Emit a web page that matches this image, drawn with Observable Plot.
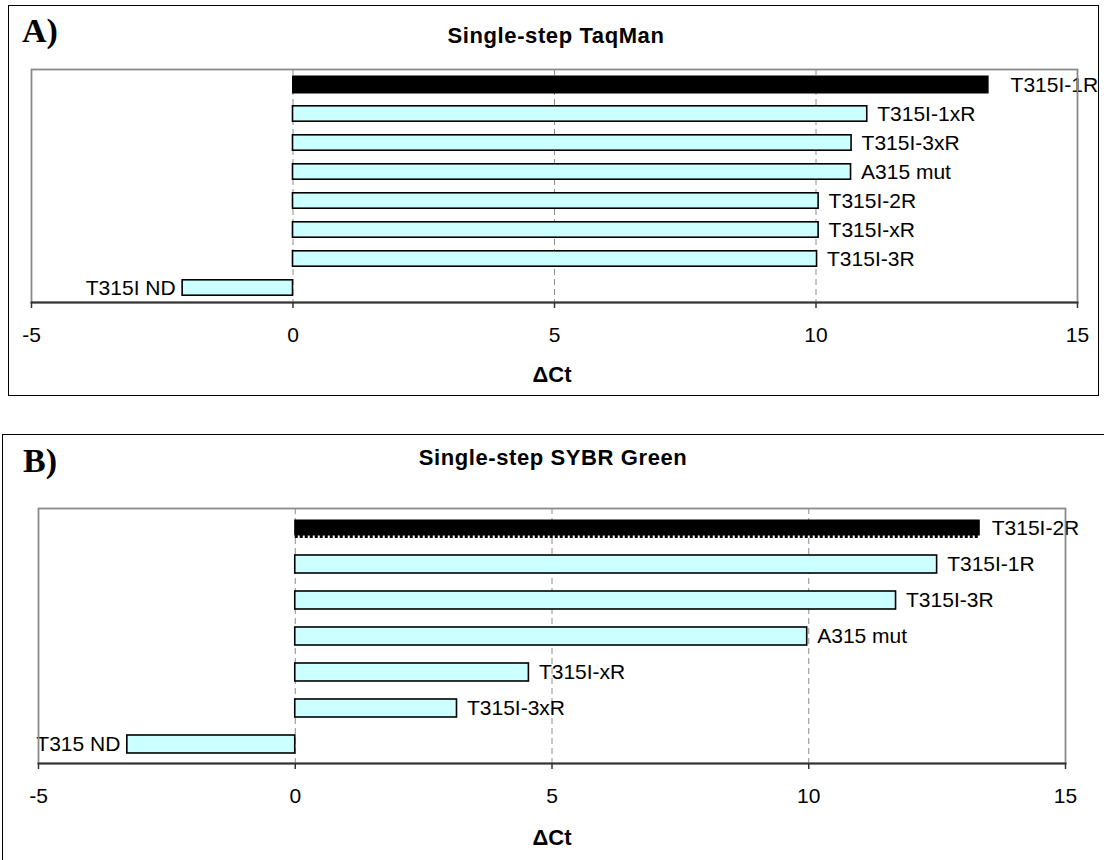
<!DOCTYPE html>
<html>
<head>
<meta charset="utf-8">
<script src="https://cdn.jsdelivr.net/npm/d3@7"></script>
<script src="https://cdn.jsdelivr.net/npm/@observablehq/plot@0.6"></script>
<style>
  html, body { margin: 0; padding: 0; background: #fff; }
  body { width: 1104px; height: 860px; position: relative; overflow: hidden; font-family: "Liberation Sans", Arial, sans-serif; }
  .box { position: absolute; border: 1.5px solid #000; box-sizing: border-box; }
  .chart { position: absolute; left: 0; }
</style>
</head>
<body>
<div class="box" style="left:8px; top:5px; width:1091px; height:391px;"></div>
<div class="box" style="left:2px; top:434px; width:1120px; height:460px;"></div>
<div id="a" class="chart" style="top:0px;"></div>
<div id="b" class="chart" style="top:430px;"></div>
<script>
// ---- data ----
const catsA = ["T315I-1R", "T315I-1xR", "T315I-3xR", "A315 mut", "T315I-2R", "T315I-xR", "T315I-3R", "T315I ND"];
const valsA = [13.30, 10.98, 10.68, 10.67, 10.05, 10.05, 10.02, -2.11];
const catsB = ["T315I-2R", "T315I-1R", "T315I-3R", "A315 mut", "T315I-xR", "T315I-3xR", "T315 ND"];
const valsB = [13.33, 12.50, 11.70, 9.97, 4.55, 3.15, -3.27];
const xTicks = [-5, 0, 5, 10, 15];
const gridTicks = [0, 5, 10];
const titleA = "Single-step TaqMan";
const titleB = "Single-step SYBR Green";
const xLabel = "ΔCt";

const font = "'Liberation Sans', Arial, sans-serif";
const cyan = "#CCFFFF";

function panel({cats, vals, width, height, mt, mb, ml, mr, inset, hiInsetTop, hiInsetBottom, hiDx, dotted}) {
  const data = cats.map((name, i) => ({name, value: vals[i], hi: i === 0}));
  const normal = data.filter(d => !d.hi);
  const hi = data.filter(d => d.hi);
  const pos = data.filter(d => d.value >= 0 && !d.hi);
  const neg = data.filter(d => d.value < 0);
  const marks = [
    Plot.gridX(gridTicks, {stroke: "#8c8c8c", strokeOpacity: 1, strokeWidth: 1, strokeDasharray: "6,4"}),
    Plot.barX(normal, {x1: 0, x2: "value", y: "name", fill: cyan, stroke: "#000", strokeWidth: 1.6, insetTop: inset, insetBottom: inset}),
    Plot.barX(hi, {x1: 0, x2: "value", y: "name", fill: "#000", stroke: "#000", strokeWidth: 1, insetTop: hiInsetTop, insetBottom: hiInsetBottom}),
  ];
  if (dotted) {
    marks.push(Plot.ruleY(hi, {y: "name", x1: 0, x2: "value", stroke: "#000", strokeWidth: 3, strokeDasharray: "3,2", dy: dotted}));
  }
  marks.push(
    Plot.text(pos, {x: "value", y: "name", text: "name", textAnchor: "start", dx: 10, fontSize: 21, fill: "#000"}),
    Plot.text(hi, {x: "value", y: "name", text: "name", textAnchor: "start", dx: hiDx, fontSize: 21, fill: "#000"}),
    Plot.text(neg, {x: "value", y: "name", text: "name", textAnchor: "end", dx: -7, fontSize: 21, fill: "#000"}),
    Plot.frame({stroke: "#8a8a8a", strokeWidth: 1.8}),
    Plot.frame({anchor: "bottom", stroke: "#333", strokeWidth: 1.8}),
    Plot.axisX({ticks: xTicks, tickSize: 6, tickPadding: 19, fontSize: 21, label: null, stroke: "#333", strokeWidth: 1.5, fill: "#000", tickFormat: d => String(d).replace("−", "-")})
  );
  return Plot.plot({
    width, height,
    marginTop: mt, marginBottom: mb, marginLeft: ml, marginRight: mr,
    style: {fontFamily: font, background: "transparent", overflow: "visible"},
    x: {domain: [-5, 15]},
    y: {domain: cats, padding: 0, axis: null},
    marks
  });
}

function annotate(svg, {letter, lx, ly, title, tx, ty, label, ax, ay}) {
  const s = d3.select(svg);
  s.append("text").attr("x", lx).attr("y", ly).attr("text-anchor", "start")
    .attr("font-family", "'Liberation Serif', 'Times New Roman', serif")
    .attr("font-weight", "bold").attr("font-size", 34).attr("fill", "#000").text(letter);
  s.append("text").attr("x", tx).attr("y", ty).attr("text-anchor", "middle")
    .attr("font-family", font).attr("font-weight", "bold").attr("font-size", 22)
    .attr("letter-spacing", "0.6px").attr("fill", "#000").text(title);
  s.append("text").attr("x", ax).attr("y", ay).attr("text-anchor", "middle")
    .attr("font-family", font).attr("font-weight", "bold").attr("font-size", 22)
    .attr("fill", "#000").text(label);
}

const svgA = panel({cats: catsA, vals: valsA, width: 1104, height: 400, mt: 69, mb: 98, ml: 31, mr: 27,
  inset: 6.8, hiInsetTop: 6, hiInsetBottom: 6, hiDx: 22, dotted: 0});
annotate(svgA, {letter: "A)", lx: 22, ly: 42, title: titleA, tx: 556, ty: 43, label: xLabel, ax: 552, ay: 382});
document.getElementById("a").appendChild(svgA);

const svgB = panel({cats: catsB, vals: valsB, width: 1104, height: 430, mt: 78, mb: 97, ml: 38, mr: 39,
  inset: 9, hiInsetTop: 10, hiInsetBottom: 11, hiDx: 12, dotted: 8});
annotate(svgB, {letter: "B)", lx: 23, ly: 42, title: titleB, tx: 553, ty: 35, label: xLabel, ax: 552, ay: 415});
document.getElementById("b").appendChild(svgB);
</script>
</body>
</html>
